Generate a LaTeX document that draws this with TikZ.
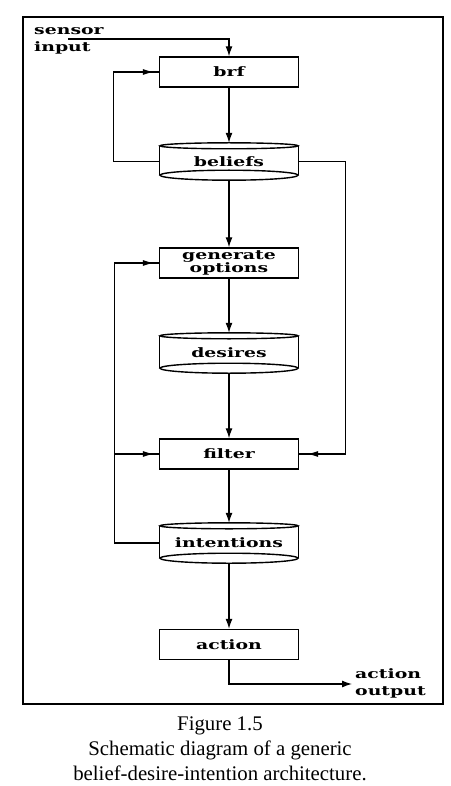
\documentclass[tikz,border=0pt]{standalone}
\usepackage{fontspec}
\setmainfont{Liberation Serif}
\newfontfamily\boxfont[FakeStretch=1.45]{DejaVu Serif Bold}
\usetikzlibrary{arrows.meta,decorations.markings,calc}
\newcommand{\drawcyl}[1]{%
  \draw[boxline] ([yshift=-3pt]#1.north) ellipse [x radius=69pt, y radius=3pt];
  \draw[boxline] ([yshift=5pt]#1.south) ellipse [x radius=69pt, y radius=5pt];
  \draw[boxline] ([yshift=-3pt]#1.north west) -- ([yshift=5pt]#1.south west);
  \draw[boxline] ([yshift=-3pt]#1.north east) -- ([yshift=5pt]#1.south east);
}
\tikzset{
  boxline/.style={line width=1.4pt},
  procbox/.style={draw, line width=1.4pt, minimum width=139pt, minimum height=30pt,
    inner sep=0pt, font=\boxfont\fontsize{13}{13}\selectfont},
  storebox/.style={minimum width=139pt, inner sep=0pt,
    font=\boxfont\fontsize{13}{13}\selectfont},
  lbl/.style={align=left, inner sep=0pt, font=\boxfont\fontsize{13}{17}\selectfont},
  conn/.style={line width=1.2pt},
  arr/.style={conn, -{Latex[length=10pt,width=7pt]}},
  midarr/.style={conn, postaction={decorate}, decoration={markings,
    mark=at position -#1 with {\arrow{Latex[length=11pt,width=6pt]}}}},
}
\begin{document}
\begin{tikzpicture}[x=1pt,y=-1pt]
\useasboundingbox (0,0) rectangle (450,786);
\fill[white] (0,0) rectangle (450,786);
% frame
\draw[line width=2pt] (23,17) rectangle (443,704);

% nodes
\node[procbox] (brf) at (229,72) {brf};
\node[storebox, minimum height=37pt] (beliefs) at (229,161.5) {beliefs};
\node[procbox, align=center, font=\boxfont\fontsize{13}{12}\selectfont] (genopt) at (229,263) {generate\\options};
\node[storebox, minimum height=40pt] (desires) at (229,353) {desires};
\node[procbox] (filter) at (229,454) {filter};
\node[storebox, minimum height=40pt] (intentions) at (229,543) {intentions};
\node[procbox] (action) at (229,644.5) {action};

\drawcyl{beliefs}
\drawcyl{desires}
\drawcyl{intentions}

\node[lbl, anchor=west] (sensortxt) at (34,40.5) {sensor\\input};
\node[lbl, anchor=west] (outtxt) at (355,683) {action\\output};

\node[align=center, inner sep=0pt, font=\fontsize{20.8}{25}\selectfont] (caption) at (220,749)
  {Figure 1.5\\Schematic diagram of a generic\\belief-desire-intention architecture.};

% connectors
\coordinate (sensorstart) at (68,39);
\draw[arr] (sensorstart) -| (brf.north);
\draw[arr] (brf.south) -- (beliefs.north);
\draw[arr] (beliefs.south) -- (genopt.north);
\draw[arr] (genopt.south) -- (desires.north);
\draw[arr] (desires.south) -- (filter.north);
\draw[arr] (filter.south) -- (intentions.north);
\draw[arr] (intentions.south) -- (action.north);

\draw[midarr=5pt] (beliefs.west) -- ++(-46pt,0) |- (brf.west);
\draw[midarr=8pt] (beliefs.east) -- ++(47pt,0) |- (filter.east);
\draw[midarr=5pt] (intentions.west) -- ++(-45pt,0) |- (genopt.west);
\coordinate (ljoin) at ([xshift=-45pt]filter.west);
\draw[midarr=5pt] (ljoin) -- (filter.west);

\coordinate (outend) at (352,684);
\draw[arr] (action.south) |- (outend);
\end{tikzpicture}
\end{document}
